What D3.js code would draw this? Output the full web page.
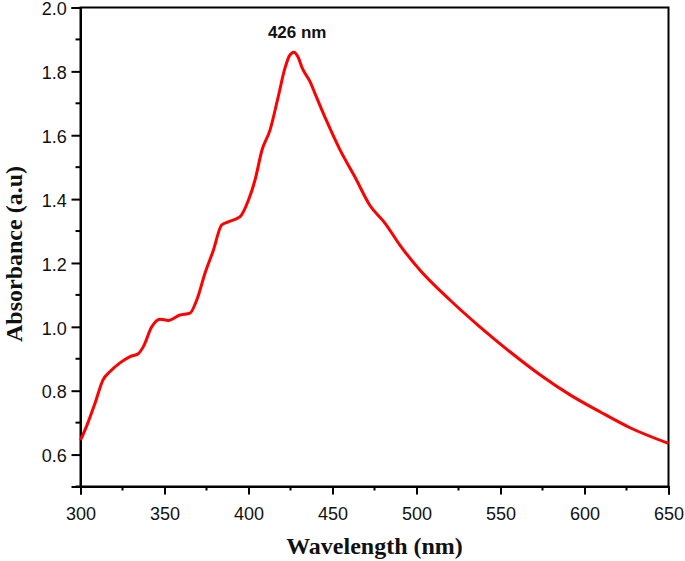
<!DOCTYPE html>
<html>
<head>
<meta charset="utf-8">
<script src="https://cdn.jsdelivr.net/npm/d3@7"></script>
<style>
  body { margin: 0; background: #fff; }
  svg { display: block; }
</style>
</head>
<body>
<div id="chart"></div>
<script>
// spectrum
const wavelength = [300, 303.7, 308.6, 313.4, 317.6, 323.5, 329.5, 334.4, 337.4, 342.4, 347.3, 352.3,
  359.2, 365.2, 369.2, 374.1, 379.1, 384, 388, 395, 400, 403.9, 408, 412.8, 417.5, 421.7, 424.5, 427,
  429.5, 432, 436.4, 440.4, 446.3, 454.4, 463.3, 472.3, 481.2, 490.1, 502, 519.9, 537.7, 555.6, 573.5,
  591.4, 609.2, 627.1, 650];
const absorbance = [0.645, 0.69, 0.76, 0.834, 0.86, 0.887, 0.907, 0.916, 0.938, 1.0, 1.024, 1.02,
  1.037, 1.043, 1.084, 1.168, 1.24, 1.319, 1.329, 1.345, 1.397, 1.46, 1.553, 1.616, 1.716, 1.81, 1.85, 1.86,
  1.845, 1.81, 1.77, 1.72, 1.647, 1.555, 1.47, 1.38, 1.325, 1.256, 1.178, 1.084, 1.0, 0.922, 0.85,
  0.787, 0.734, 0.684, 0.635];

const xTicks = [300, 350, 400, 450, 500, 550, 600, 650];
const yTicks = [0.6, 0.8, 1.0, 1.2, 1.4, 1.6, 1.8, 2.0];
const peakLabel = "426 nm";
const peakAt = 426;

const W = 685, H = 561;
const margin = {left: 80.5, right: 16.5, top: 7.5, bottom: 74};

const svg = d3.select("#chart").append("svg")
  .attr("width", W)
  .attr("height", H);

const x = d3.scaleLinear().domain([300, 650]).range([margin.left, W - margin.right]);
const y = d3.scaleLinear().domain([0.5, 2.0]).range([H - margin.bottom - 0.5, margin.top]);

const points = wavelength.map((w, i) => ({w: w, a: absorbance[i]}));

// frame
svg.append("rect")
  .attr("x", x(300))
  .attr("y", y(2.0))
  .attr("width", x(650) - x(300))
  .attr("height", y(0.5) - y(2.0))
  .attr("fill", "none")
  .attr("stroke", "#000")
  .attr("stroke-width", 2);

// minor ticks (halfway between majors)
const xMinor = d3.range(325, 650, 50);
const yMinor = d3.range(0.5, 2.0, 0.2).map(v => +v.toFixed(1)).filter(v => v < 2.0);

const xAxis = d3.axisBottom(x).tickValues(xTicks).tickSize(8).tickFormat(d3.format("d"));
const gx = svg.append("g")
  .attr("transform", "translate(0," + y(0.5) + ")")
  .call(xAxis);
gx.append("g").selectAll("line")
  .data(xMinor)
  .enter()
  .append("line")
  .attr("x1", d => x(d)).attr("x2", d => x(d))
  .attr("y1", 0).attr("y2", 4);

const yAxis = d3.axisLeft(y).tickValues(yTicks).tickSize(9).tickFormat(d3.format(".1f"));
const gy = svg.append("g")
  .attr("transform", "translate(" + x(300) + ",0)")
  .call(yAxis);
gy.append("g").selectAll("line")
  .data(yMinor)
  .enter()
  .append("line")
  .attr("y1", d => y(d)).attr("y2", d => y(d))
  .attr("x1", 0).attr("x2", -5);

[gx, gy].forEach(g => {
  g.select(".domain").attr("stroke", "#000").attr("stroke-width", 2);
  g.selectAll("line").attr("stroke", "#000").attr("stroke-width", 2);
  g.selectAll(".tick text")
    .attr("font-family", "Liberation Sans, Arial, sans-serif")
    .attr("font-size", 18)
    .attr("fill", "#111");
});
gx.selectAll(".tick text").attr("dy", "1.25em");
gy.selectAll(".tick text").attr("dx", "-0.1em").attr("dy", "0.4em");

// spectrum
const line = d3.line()
  .x(d => x(d.w))
  .y(d => y(d.a))
  .curve(d3.curveMonotoneX);

svg.append("path")
  .datum(points)
  .attr("d", line)
  .attr("fill", "none")
  .attr("stroke", "#f00")
  .attr("stroke-width", 3)
  .attr("stroke-linejoin", "round");

// peak label
svg.append("text")
  .attr("x", x(peakAt) + 5)
  .attr("y", 38)
  .attr("text-anchor", "middle")
  .attr("font-family", "Liberation Sans, Arial, sans-serif")
  .attr("font-weight", "bold")
  .attr("font-size", 17)
  .attr("fill", "#111")
  .text(peakLabel);

// axis titles
svg.append("text")
  .attr("x", (x(300) + x(650)) / 2)
  .attr("y", 554)
  .attr("text-anchor", "middle")
  .attr("font-family", "Liberation Serif, Times New Roman, serif")
  .attr("font-weight", "bold")
  .attr("font-size", 24)
  .attr("fill", "#111")
  .text("Wavelength (nm)");

svg.append("text")
  .attr("transform", "translate(22," + ((y(0.5) + y(2.0)) / 2 + 7) + ") rotate(-90)")
  .attr("text-anchor", "middle")
  .attr("font-family", "Liberation Serif, Times New Roman, serif")
  .attr("font-weight", "bold")
  .attr("font-size", 24)
  .attr("fill", "#111")
  .text("Absorbance (a.u)");
</script>
</body>
</html>
